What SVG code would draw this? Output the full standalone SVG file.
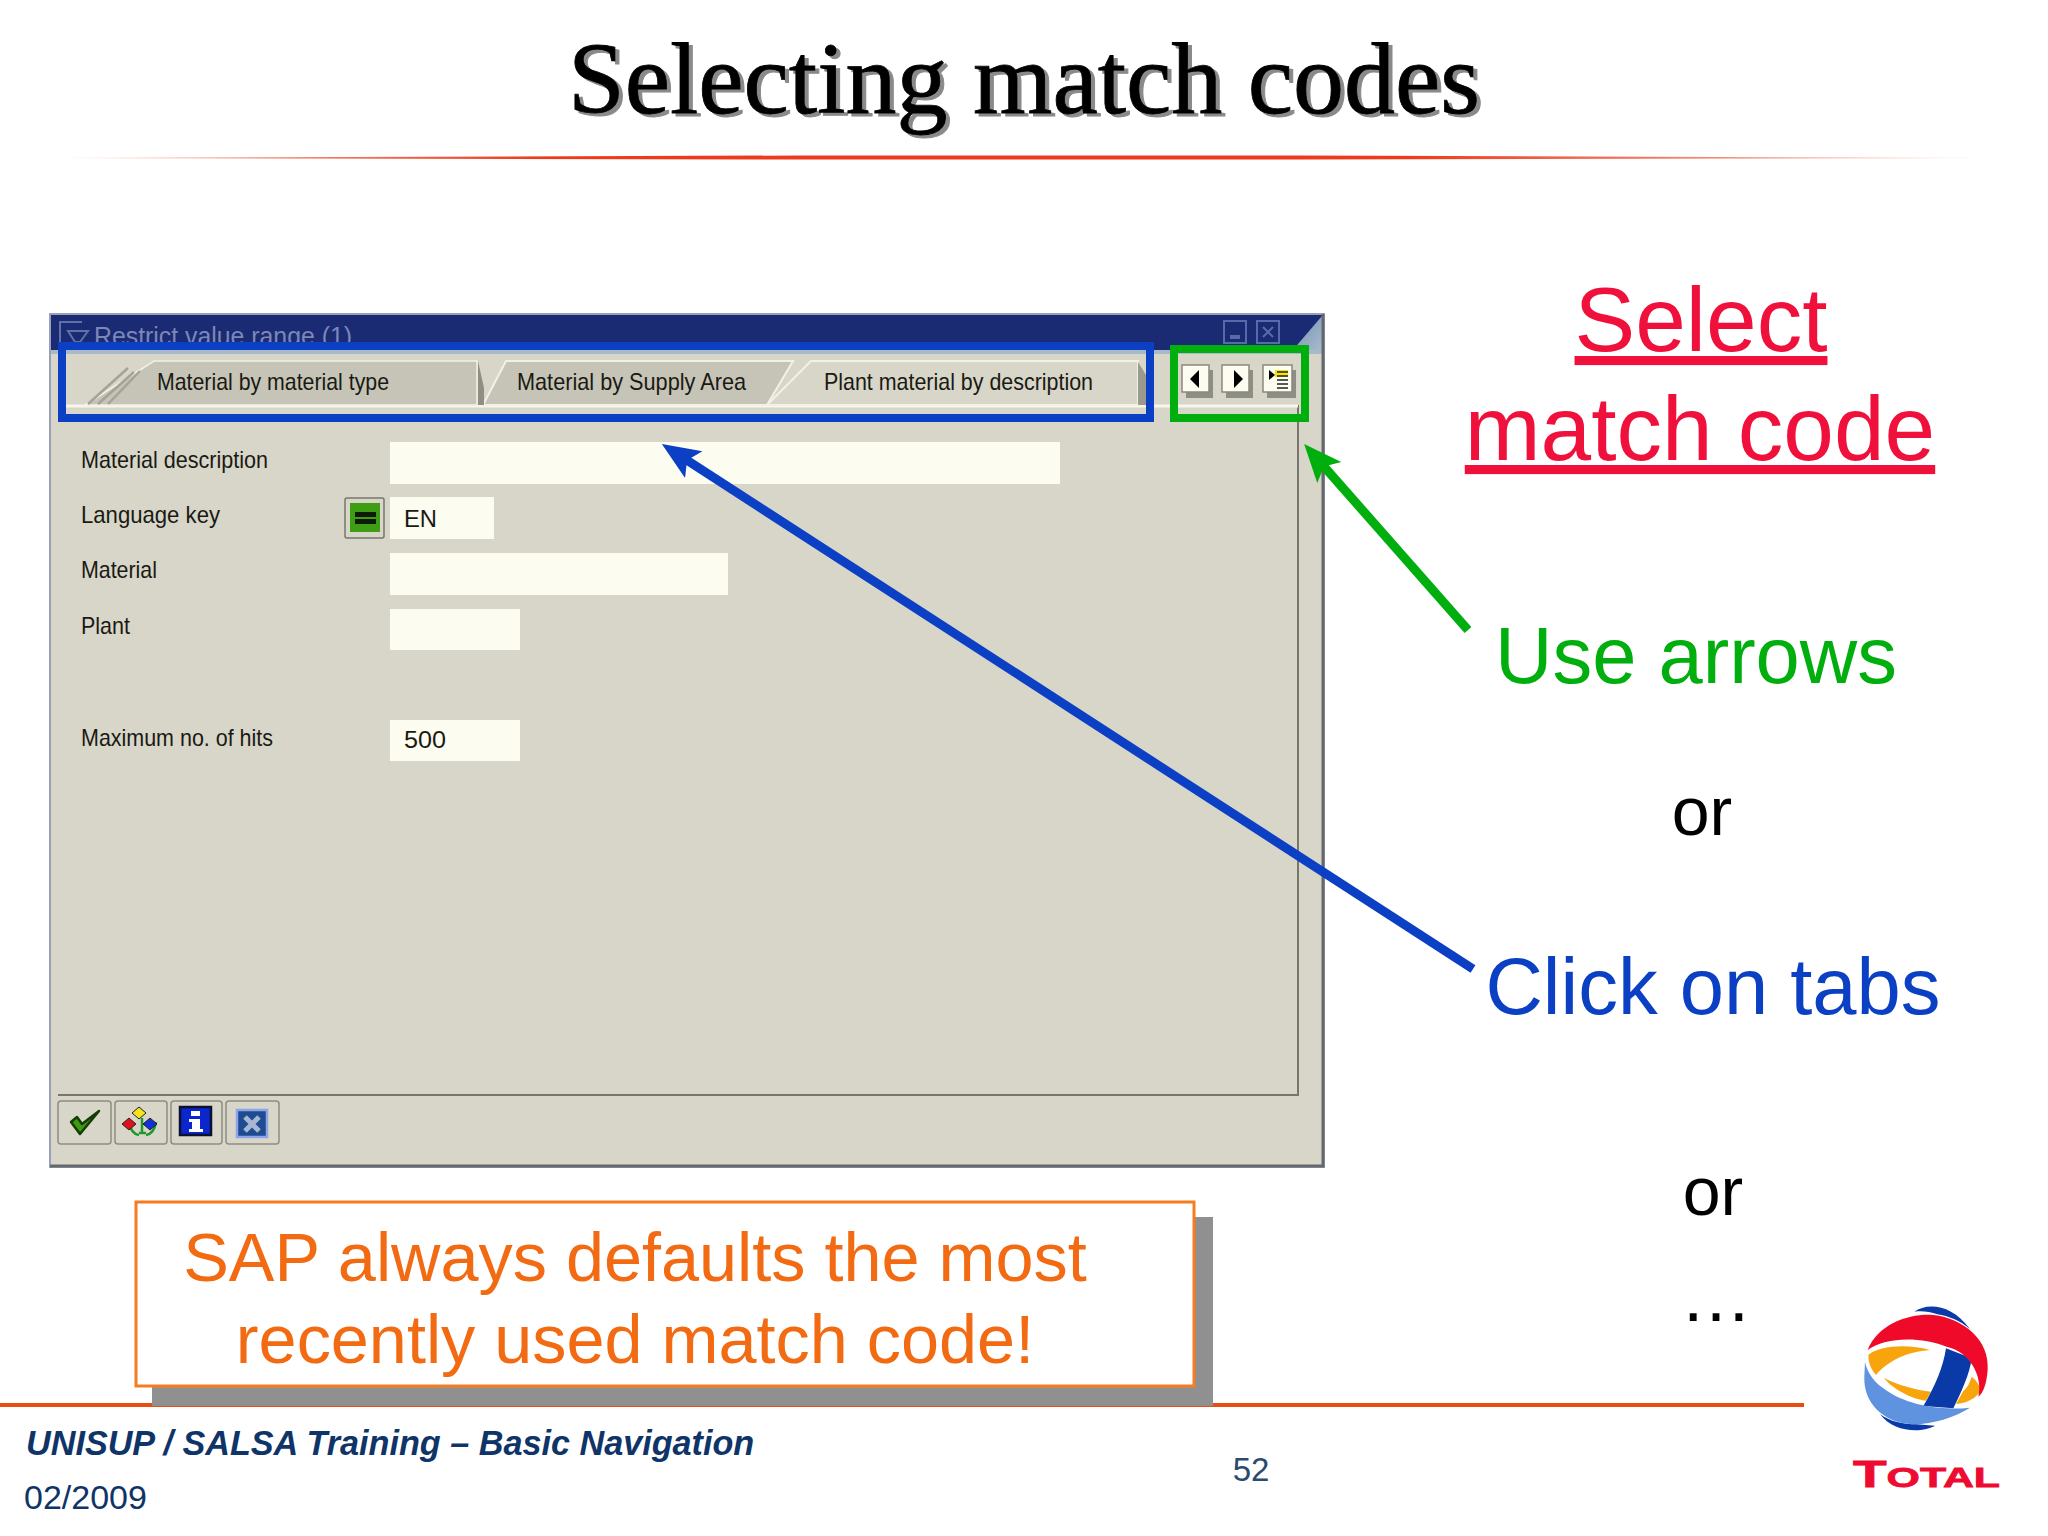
<svg xmlns="http://www.w3.org/2000/svg" width="2048" height="1536" viewBox="0 0 2048 1536">
<defs>
<linearGradient id="rule" x1="0" x2="1" y1="0" y2="0"><stop offset="0" stop-color="#f7c8b8"/><stop offset="0.25" stop-color="#ee3a1c"/><stop offset="0.7" stop-color="#ee3a1c"/><stop offset="1" stop-color="#f7d0c4"/></linearGradient>
<linearGradient id="corner" x1="0" x2="1" y1="0" y2="1"><stop offset="0" stop-color="#6f8db8"/><stop offset="1" stop-color="#a9bccb"/></linearGradient>
<marker id="hb" markerUnits="userSpaceOnUse" markerWidth="44" markerHeight="36" refX="14" refY="18" orient="auto"><path d="M0 2 L38 18 L0 34 L8 18 Z" fill="#0b3fc4"/></marker>
<marker id="hg" markerUnits="userSpaceOnUse" markerWidth="44" markerHeight="36" refX="14" refY="18" orient="auto"><path d="M0 2 L38 18 L0 34 L8 18 Z" fill="#00ae0e"/></marker>
<style>
text{font-family:"Liberation Sans",Arial,sans-serif}
.ui{font-size:24px;fill:#1a1a14}
.fld{fill:#fdfcf0}
.tab{fill:#c6c4b6;stroke:#f2f1e6;stroke-width:2}
.btn{fill:#d8d6c8;stroke:#8e8d80;stroke-width:1.5}
.sbtn{fill:#fdfcf0;stroke:#8a897c;stroke-width:1.5}
.ssh{fill:#8f8e84}
.big{text-anchor:middle}
.ttl{font-family:"Liberation Serif",serif;font-size:102px;text-anchor:middle}
</style>
</defs>
<rect width="2048" height="1536" fill="#fff"/>
<g id="title">
<text class="ttl" x="1028" y="116" fill="#8a8a8a" stroke="#8a8a8a" stroke-width="1">Selecting match codes</text>
<text class="ttl" x="1024" y="113" fill="#000" stroke="#000" stroke-width="0.8">Selecting match codes</text>
<path d="M62 158 L800 155.5 H1300 L1982 158 L1300 159.5 H800 Z" fill="url(#rule)"/>
</g>
<g id="window">
<rect x="50" y="314" width="1274" height="853" fill="#d8d6c8"/>
<rect x="50" y="314" width="1274" height="37" fill="#1a2b73"/>
<path d="M1292 351 L1322 316 V351 Z" fill="url(#corner)"/>
<text x="94" y="345" style="font-size:25px" fill="#7a87b8" textLength="258" lengthAdjust="spacingAndGlyphs">Restrict value range (1)</text>
<path d="M60 345 V322 H82 M68 331 H88 L80 342 H75 Z" fill="none" stroke="#6070a8" stroke-width="2"/>
<rect x="1224" y="321" width="22" height="22" fill="none" stroke="#5a6aa8" stroke-width="2"/>
<rect x="1230" y="335" width="10" height="4" fill="#5a6aa8"/>
<rect x="1257" y="321" width="22" height="22" fill="none" stroke="#5a6aa8" stroke-width="2"/>
<path d="M1263 327 L1273 337 M1273 327 L1263 337" stroke="#5a6aa8" stroke-width="2"/>
<rect x="50" y="350" width="1274" height="4" fill="#a8bac8"/>
<rect x="50" y="314" width="1274" height="853" fill="none" stroke="#9aa0b8" stroke-width="2"/>
<path d="M1323 314 V1166 H50" fill="none" stroke="#64686c" stroke-width="3"/>
<path d="M1298 405 V1095 H58" fill="none" stroke="#77776c" stroke-width="2"/>
<path d="M58 406 H1298" stroke="#f7f6ec" stroke-width="3"/>
</g>
<g id="tabs">
<path class="tab" d="M85 405 L154 361 H477 V405 Z" style="stroke-width:1.5"/>
<path d="M88 404 L128 368 M98 404 L134 372 M108 404 L140 371" stroke="#a4a398" stroke-width="2.5" fill="none"/>
<path class="tab" d="M483 405 L506 361 H793 L767 405 Z"/>
<path d="M478 361 V405 H484 V388 Z" fill="#8f8e84"/>
<path d="M767 405 L811 361 H1138 V405 Z" fill="#d8d6c8" stroke="#f2f1e6" stroke-width="2"/>
<path d="M1138 362 L1146 375 V405 H1138 Z" fill="#9a998e"/>
<text class="ui" x="157" y="390" textLength="232" lengthAdjust="spacingAndGlyphs">Material by material type</text>
<text class="ui" x="517" y="390" textLength="229" lengthAdjust="spacingAndGlyphs">Material by Supply Area</text>
<text class="ui" x="824" y="390" textLength="269" lengthAdjust="spacingAndGlyphs">Plant material by description</text>
</g>
<g id="tab-arrows">
<rect class="ssh" x="1186" y="370" width="27" height="28"/><rect class="sbtn" x="1182" y="365" width="27" height="27"/>
<path d="M1199 370 V388 L1190 379 Z" fill="#000"/>
<rect class="ssh" x="1226" y="370" width="27" height="28"/><rect class="sbtn" x="1222" y="365" width="27" height="27"/>
<path d="M1234 370 V388 L1243 379 Z" fill="#000"/>
<rect class="ssh" x="1267" y="370" width="29" height="28"/><rect class="sbtn" x="1263" y="365" width="29" height="27"/>
<path d="M1269 370 V380 L1275 375 Z" fill="#000"/>
<rect x="1275" y="370" width="13" height="7" fill="#f4e600"/>
<path d="M1277 372 H1288 M1277 376 H1288 M1277 380 H1288 M1277 384 H1288 M1277 388 H1288" stroke="#222" stroke-width="1.5"/>
</g>
<g id="form">
<text class="ui" x="81" y="468" textLength="187" lengthAdjust="spacingAndGlyphs">Material description</text>
<rect class="fld" x="390" y="442" width="670" height="42"/>
<text class="ui" x="81" y="523" textLength="139" lengthAdjust="spacingAndGlyphs">Language key</text>
<rect x="345" y="498" width="39" height="40" rx="2" fill="#d8d6c8" stroke="#77776c" stroke-width="1.5"/>
<rect x="350" y="503" width="30" height="29" fill="#3f9d14"/>
<rect x="355" y="512" width="21" height="5" fill="#101a08"/><rect x="355" y="519" width="21" height="5" fill="#101a08"/>
<rect class="fld" x="390" y="497" width="104" height="42"/>
<text class="ui" x="404" y="527" textLength="33" lengthAdjust="spacingAndGlyphs">EN</text>
<text class="ui" x="81" y="578" textLength="76" lengthAdjust="spacingAndGlyphs">Material</text>
<rect class="fld" x="390" y="553" width="338" height="42"/>
<text class="ui" x="81" y="634" textLength="49" lengthAdjust="spacingAndGlyphs">Plant</text>
<rect class="fld" x="390" y="609" width="130" height="41"/>
<text class="ui" x="81" y="746" textLength="192" lengthAdjust="spacingAndGlyphs">Maximum no. of hits</text>
<rect class="fld" x="390" y="720" width="130" height="41"/>
<text class="ui" x="404" y="748" textLength="42" lengthAdjust="spacingAndGlyphs">500</text>
</g>
<g id="toolbar">
<rect class="btn" x="58" y="1101" width="53" height="43" rx="3"/>
<path d="M71 1122 L80 1134 L99 1111 L82 1124 L77 1117 Z" fill="#3f9a10" stroke="#143c06" stroke-width="2.5" stroke-linejoin="round"/>
<rect class="btn" x="115" y="1101" width="52" height="43" rx="3"/>
<path d="M139 1133 H146 M129 1122 Q131 1134 139 1135 M156 1122 Q154 1134 146 1135 M142 1118 V1133" stroke="#1f9a2a" stroke-width="2.5" fill="none"/>
<path d="M139 1107 L146 1113 L139 1119 L132 1113 Z" fill="#f6e21c" stroke="#222"/>
<path d="M129 1118 L136 1124 L129 1130 L122 1124 Z" fill="#e0101c" stroke="#222"/>
<path d="M150 1118 L157 1124 L150 1130 L143 1124 Z" fill="#1030d8" stroke="#222"/>
<rect class="btn" x="171" y="1101" width="51" height="43" rx="3"/>
<rect x="180" y="1107" width="31" height="28" fill="#0a26cc" stroke="#0b1030" stroke-width="2.5"/>
<path d="M191 1111 H200 V1116 H191 Z M189 1119 H200 V1129 H203 V1132 H189 V1129 H192 V1122 H189 Z" fill="#fff"/>
<rect class="btn" x="226" y="1101" width="53" height="43" rx="3"/>
<rect x="237" y="1110" width="30" height="27" fill="#1d4c92" stroke="#8ea4e8" stroke-width="2.5"/>
<path d="M245 1117 L259 1131 M259 1117 L245 1131" stroke="#a8b8d0" stroke-width="5"/>
</g>
<g id="highlight-tabs"><rect x="62" y="346" width="1088" height="72" fill="none" stroke="#0b3fc4" stroke-width="8"/></g>
<g id="highlight-arrows"><rect x="1174" y="349" width="131" height="69" fill="none" stroke="#00ae0e" stroke-width="8"/></g>
<g id="connectors">
<line x1="1473" y1="969" x2="682" y2="457" stroke="#0b3fc4" stroke-width="9" marker-end="url(#hb)"/>
<line x1="1468" y1="630" x2="1320" y2="462" stroke="#00ae0e" stroke-width="9" marker-end="url(#hg)"/>
</g>
<g id="select-label">
<text class="big" x="1701" y="351" style="font-size:91px;text-decoration:underline" fill="#f0103c">Select</text>
<text class="big" x="1700" y="460" style="font-size:91px;text-decoration:underline" fill="#f0103c">match code</text>
</g>
<g id="use-arrows"><text class="big" x="1696" y="683" style="font-size:79.5px" fill="#00ae0e">Use arrows</text></g>
<g id="or-1"><text class="big" x="1702" y="835" style="font-size:68px" fill="#000">or</text></g>
<g id="click-tabs"><text class="big" x="1713" y="1014" style="font-size:79.5px" fill="#0b3fc4">Click on tabs</text></g>
<g id="or-2"><text class="big" x="1713" y="1215" style="font-size:68px" fill="#000">or</text></g>
<g id="ellipsis"><text class="big" x="1716" y="1321" style="font-size:72px" fill="#000">…</text></g>
<g id="footer-rule"><rect x="0" y="1403" width="1804" height="4" fill="#e84c10"/></g>
<g id="note">
<rect x="152" y="1217" width="1061" height="189" fill="#909090"/>
<rect x="136" y="1202" width="1058" height="184" fill="#fff" stroke="#f57c20" stroke-width="3"/>
<text class="big" x="635" y="1281" style="font-size:68.4px" fill="#f26a12">SAP always defaults the most</text>
<text class="big" x="635" y="1363" style="font-size:68.4px" fill="#f26a12">recently used match code!</text>
</g>
<g id="footer">
<text x="26" y="1455" style="font-size:34.2px;font-weight:bold;font-style:italic" fill="#0f3468">UNISUP / SALSA Training – Basic Navigation</text>
<text x="24" y="1509" style="font-size:34px" fill="#0f3468">02/2009</text>
<text x="1251" y="1481" text-anchor="middle" style="font-size:33px" fill="#2a4a70">52</text>
</g>
<g id="logo">
<g transform="translate(1820,1280) scale(0.3333)">
<path d="M283 95 C320 68 395 70 450 147 C420 122 385 108 352 103 C330 95 305 92 283 95Z" fill="#0a3aa8"/>
<path d="M145 225 C175 198 260 190 330 210 C260 215 200 245 168 285 C155 270 145 250 145 225Z" fill="#f8a40c"/>
<path d="M192 293 C230 315 290 330 333 335 L318 362 C270 355 215 325 192 293Z" fill="#f8a40c"/>
<path d="M455 290 C470 300 480 320 483 330 C470 355 440 370 408 372 L430 333 C445 320 450 305 455 290Z" fill="#f8a40c"/>
<path d="M180 402 C210 425 250 433 290 433 L345 437 C310 458 220 460 180 402Z" fill="#0a3aa8"/>
<path d="M378 205 L455 235 C450 280 425 335 400 385 L310 378 C345 320 370 260 378 205Z" fill="#0a3aa8"/>
<path d="M135 245 C140 270 155 300 190 325 C240 365 340 395 450 383 C400 415 330 435 270 432 C190 425 130 370 133 290Z" fill="#5f93e0"/>
<path d="M143 210 C175 130 270 100 340 105 C430 115 510 180 503 270 C500 310 490 340 475 350 C490 290 450 215 380 200 C300 170 200 170 143 210Z" fill="#f00a2a"/>
</g>
<text x="1853" y="1487" textLength="147" lengthAdjust="spacingAndGlyphs" style="font-size:36px;font-weight:bold" fill="#ee0a30" stroke="#ee0a30" stroke-width="0.8">T<tspan style="font-size:28px">OTAL</tspan></text>
</g>
</svg>
